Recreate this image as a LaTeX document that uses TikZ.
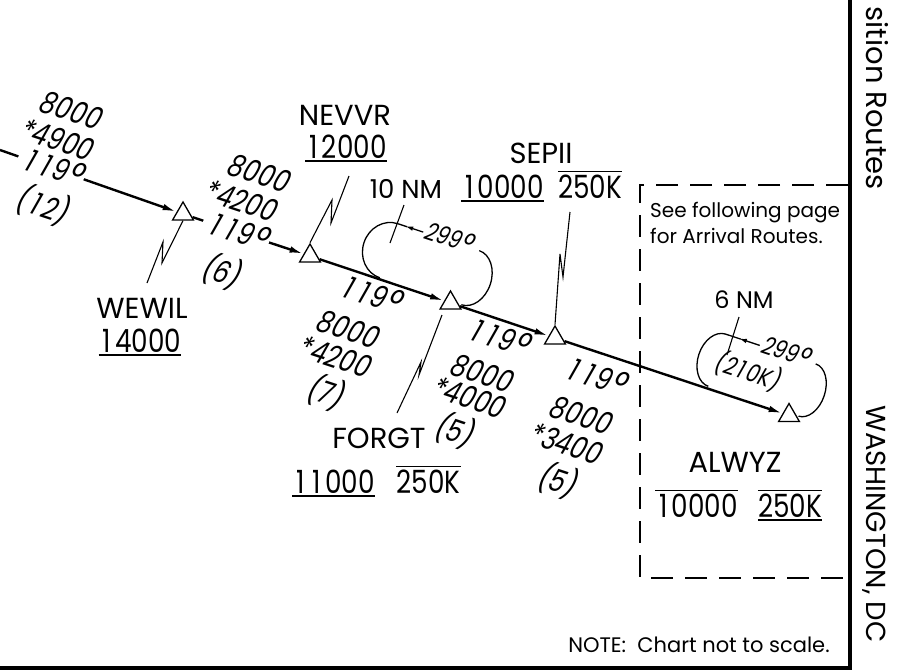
\documentclass[tikz,border=0pt]{standalone}
\usepackage{fontspec}
\setmainfont{Poppins}
\newfontfamily\digfont[FakeStretch=0.82]{Poppins}
\newfontfamily\oblfont[FakeSlant=0.2,FakeStretch=0.8]{Poppins}
\newcommand{\tone}{\hbox to \fontcharwd\font`0{\hss 1\hss}}
\newcommand{\dg}{\kern0.5pt\raisebox{-0.14em}{\scalebox{1.35}{°}}}
\usetikzlibrary{shapes.geometric,arrows.meta}
\begin{document}
\begin{tikzpicture}[x=1pt,y=-1pt,
  wpt/.style={regular polygon,regular polygon sides=3,draw,line width=1.3pt,minimum size=24pt,inner sep=0pt,fill=white},
  track/.style={line width=2.4pt,-{Latex[length=14pt,width=6.5pt]}},
  fixname/.style={font=\fontsize{29}{31}\selectfont,inner sep=0pt,anchor=base},
  altnum/.style={font=\digfont\fontsize{32}{34}\selectfont,inner sep=0pt,anchor=base},
  rlab/.style={font=\oblfont\fontsize{31}{33}\selectfont,rotate=-18.3,inner sep=0pt},
  onl/.style={rlab,fill=white,inner sep=4pt},
  smalltxt/.style={font=\fontsize{20}{22}\selectfont,inner sep=0pt,anchor=base},
  nmtxt/.style={font=\fontsize{26}{28}\selectfont,inner sep=0pt,anchor=base},
  holdtxt/.style={font=\oblfont\fontsize{25}{27}\selectfont,rotate=-18.3,inner sep=0pt},
  sidetxt/.style={font=\fontsize{27.5}{29}\selectfont,rotate=-90,inner sep=0pt},
  leader/.style={line width=1.1pt,line join=miter},
  holdline/.style={line width=1.3pt},
  altrule/.style={line width=1.4pt},
  boxline/.style={line width=1.3pt,dash pattern=on 22pt off 12pt}
]
\useasboundingbox (0,0) rectangle (900,672);

% frame and dashed box
\draw[line width=3.6pt] (850,-3) -- (850,668) -- (-3,668);
\draw[boxline] (848,185) -- (640,185) -- (640,578) -- (848,578);

% waypoints
\node[wpt] (WEWIL) at (183,214) {};
\node[wpt] (NEVVR) at (310,256) {};
\node[wpt] (FORGT) at (450.5,303) {};
\node[wpt] (SEPII) at (555,338) {};
\node[wpt] (ALWYZ) at (789,415.5) {};
\coordinate (entry) at (0,150);

% tracks
\draw[track] (entry) -- (WEWIL);
\draw[track] (WEWIL) -- (NEVVR);
\draw[track] (NEVVR) -- (FORGT);
\draw[track] (FORGT) -- (SEPII);
\draw[track] (SEPII) -- (ALWYZ);

% holding patterns
\begin{scope}[shift={(450,301)},rotate=-18.3]
  \draw[holdline] (12,0) arc[start angle=90,end angle=-90,x radius=21,y radius=28.5];
  \draw[holdline,-{Latex[length=8pt,width=4.5pt]}] (-47,-57) -- (-66,-57);
  \draw[holdline] (-64,-57) -- (-74,-57) arc[start angle=-90,end angle=-270,x radius=26,y radius=28.5];
\end{scope}
\begin{scope}[shift={(789,413)},rotate=-18.3]
  \draw[holdline] (10,0) arc[start angle=90,end angle=-90,x radius=18,y radius=27.5];
  \draw[holdline,-{Latex[length=8pt,width=4.5pt]}] (-49,-55) -- (-71,-55);
  \draw[holdline] (-69,-55) -- (-85,-55) arc[start angle=-90,end angle=-270,x radius=19,y radius=27.5];
\end{scope}

% route labels
\node[onl] (g1c) at (51,168) {\tone\tone 9\dg};
\node[rlab] (g1a) at (70,110) {8000};
\node[rlab] (g1b) at (56,139) {*4900};
\node[rlab] (g1d) at (42,205) {(\tone 2)};

\node[onl] (g2c) at (236,232) {\tone\tone 9\dg};
\node[rlab] (g2a) at (258,173) {8000};
\node[rlab] (g2b) at (240,200) {*4200};
\node[rlab] (g2d) at (221,271) {(6)};

\node[rlab] (g3a) at (369,295) {\tone\tone 9\dg};
\node[rlab] (g3b) at (347,329) {8000};
\node[rlab] (g3c) at (334,356) {*4200};
\node[rlab] (g3d) at (325,392) {(7)};

\node[rlab] (g4a) at (497,338) {\tone\tone 9\dg};
\node[rlab] (g4b) at (481,373) {8000};
\node[rlab] (g4c) at (468,397) {*4000};
\node[rlab] (g4d) at (454,430) {(5)};

\node[rlab] (g5a) at (594,377) {\tone\tone 9\dg};
\node[rlab] (g5b) at (580,415) {8000};
\node[rlab] (g5c) at (565,443) {*3400};
\node[rlab] (g5d) at (557,480) {(5)};

% hold labels
\node[holdtxt] (h1t) at (448,238) {299\dg};
\node[holdtxt] (h2t) at (785,352) {299\dg};
\node[holdtxt] (h2k) at (747,371) {(2\tone 0K)};
\node[nmtxt] (nm10) at (406,198) {10 NM};
\node[nmtxt,font=\fontsize{24}{26}\selectfont] (nm6) at (744,308) {6 NM};
\coordinate (nm10a) at (404,205); \coordinate (nm10b) at (390,243);
\coordinate (nm6a) at (739,317); \coordinate (nm6b) at (727,355);
\draw[leader] (nm10a) -- (nm10b);
\draw[leader] (nm6a) -- (nm6b);

% fix names and altitudes
\node[fixname] (tNEVVR) at (345,125) {NEVVR};
\node[altnum] (aNEVVR) at (346,158) {\tone 2000};
\draw[altrule] ([yshift=-3pt]aNEVVR.base west) -- ([yshift=-3pt]aNEVVR.base east);

\node[fixname] (tSEPII) at (541,163) {SEPII};
\node[altnum] (aSEPII) at (502.5,198) {\tone 0000};
\node[altnum] (sSEPII) at (590,198) {250K};
\draw[altrule] ([yshift=-3pt]aSEPII.base west) -- ([yshift=-3pt]aSEPII.base east);
\draw[altrule] ([yshift=3pt]sSEPII.north west) -- ([yshift=3pt]sSEPII.north east);

\node[fixname] (tWEWIL) at (142,318) {WEWIL};
\node[altnum] (aWEWIL) at (140,352) {\tone 4000};
\draw[altrule] ([yshift=-3pt]aWEWIL.base west) -- ([yshift=-3pt]aWEWIL.base east);

\node[fixname] (tFORGT) at (379,448) {FORGT};
\node[altnum] (aFORGT) at (333.5,493) {\tone\tone 000};
\node[altnum] (sFORGT) at (428.5,493) {250K};
\draw[altrule] ([yshift=-3pt]aFORGT.base west) -- ([yshift=-3pt]aFORGT.base east);
\draw[altrule] ([yshift=3pt]sFORGT.north west) -- ([yshift=3pt]sFORGT.north east);

\node[fixname] (tALWYZ) at (735,472) {ALWYZ};
\node[altnum] (aALWYZ) at (696.5,517) {\tone 0000};
\node[altnum] (sALWYZ) at (790,517) {250K};
\draw[altrule] ([yshift=3pt]aALWYZ.north west) -- ([yshift=3pt]aALWYZ.north east);
\draw[altrule] ([yshift=3pt]sALWYZ.north west) -- ([yshift=3pt]sALWYZ.north east);
\draw[altrule] ([yshift=-3pt]sALWYZ.base west) -- ([yshift=-3pt]sALWYZ.base east);

% leaders (lightning bolts)
\coordinate (lwe) at (147,283);
\coordinate (lne) at (349,176);
\coordinate (lfo) at (442,315);
\coordinate (lfob) at (397,413);
\coordinate (lse) at (570,212);
\draw[leader] (WEWIL.side 2) -- (162,263) -- (163,242) -- (lwe);
\draw[leader] (lne) -- (331,223) -- (332,200) -- (NEVVR.corner 1);
\draw[leader] (lfo) -- (419,375) -- (421,362) -- (lfob);
\draw[leader] (lse) -- (563,277) -- (560,254) -- (SEPII.corner 1);

% notes
\node[smalltxt,anchor=base west] (see1) at (650,217) {See following page};
\node[smalltxt,anchor=base west] (see2) at (650,243) {for Arrival Routes.};
\node[smalltxt,font=\fontsize{21}{23}\selectfont] (note) at (699,652) {NOTE:\ \ Chart not to scale.};

% side titles
\node[sidetxt,anchor=base east,font=\fontsize{29}{31}\selectfont] (ttl) at (866,190) {sition Routes};
\node[sidetxt,anchor=base west] (wdc) at (866,405) {WASHINGTON, DC};
\end{tikzpicture}
\end{document}
